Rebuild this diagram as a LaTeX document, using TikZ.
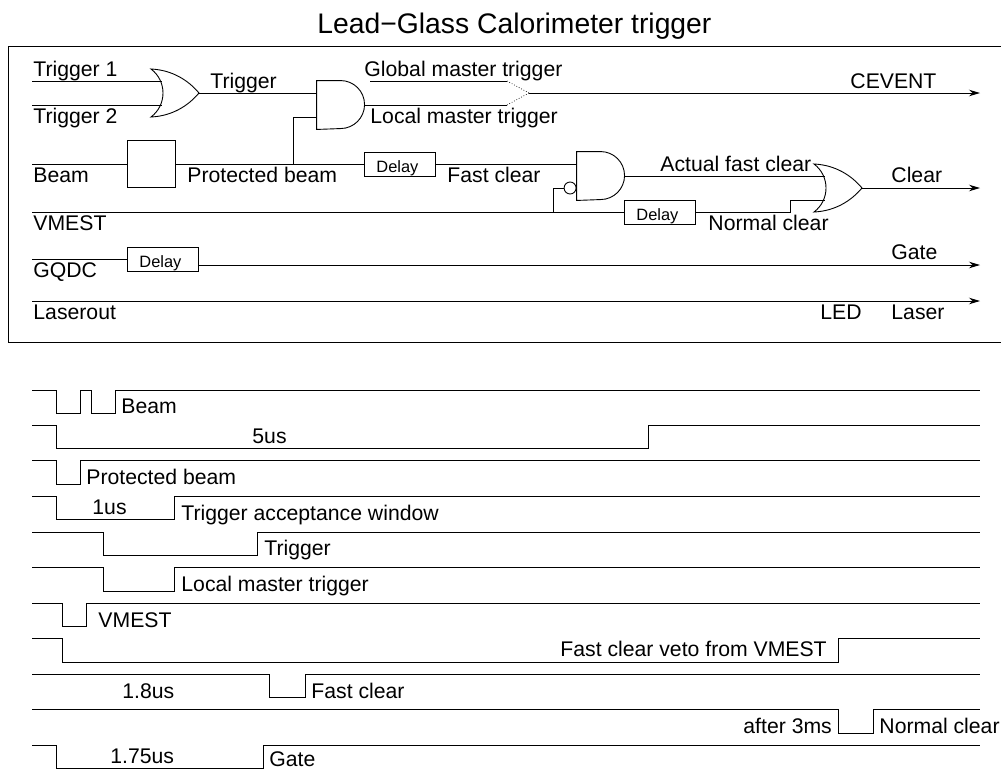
\documentclass[tikz,border=0pt]{standalone}
\usepackage{fontspec}
\setmainfont{Liberation Sans}
\usetikzlibrary{arrows.meta}
\newcommand{\andgate}[2]{\node[gatebox] (#1) at (#2) {};
\draw (#1.north west)--++(24,0) arc[start angle=90,end angle=-90,radius=24pt]--(#1.south west)--cycle;
\coordinate (#1-a) at ([yshift=12pt]#1.west);\coordinate (#1-b) at ([yshift=-12pt]#1.west);}
\newcommand{\orgate}[2]{\node[gatebox] (#1) at (#2) {};
\draw[shift={(#1.center)}] (-24,-24) .. controls (-3,-23) and (13,-13) .. (24,0) .. controls (13,13) and (-3,23) .. (-24,24) .. controls (-8,12) and (-8,-12) .. (-24,-24) -- cycle;
\coordinate (#1-a) at ([xshift=11pt,yshift=12pt]#1.west);\coordinate (#1-b) at ([xshift=11pt,yshift=-12pt]#1.west);}
\begin{document}
\begin{tikzpicture}[x=1pt,y=-1pt,>={Stealth[length=11pt,width=6.5pt]},line width=.9pt,
lab/.style={anchor=base west,inner sep=0pt,font=\fontsize{21.2}{24}\selectfont},
delaybox/.style={draw,anchor=west,minimum height=24pt,text width=47pt,align=left,inner xsep=12pt,inner ysep=0pt,text height=16pt,text depth=0pt,font=\fontsize{16.4}{18}\selectfont},
gatebox/.style={minimum size=48pt,inner sep=0pt}]
\useasboundingbox (0,0) rectangle (1001,769);
\node[lab,font=\fontsize{28.3}{32}\selectfont] (title) at (317,33) {Lead−Glass Calorimeter trigger};
\draw[line width=.8pt] (1001,46.5)--(8.5,46.5)--(8.5,342)--(1001,342);
% gates and boxes
\orgate{orA}{175,93}
\andgate{andA}{341,105}
\andgate{andB}{601,176}
\orgate{orB}{838,188}
\node[draw,circle,minimum size=12pt,inner sep=0pt,anchor=east] (notB) at (andB-b) {};
\node[draw,minimum width=48pt,minimum height=47pt] (protect) at (151,164) {};
\node[delaybox] (delayBeam) at (364,164) {Delay};
\node[delaybox] (delayClear) at (624,212) {Delay};
\node[delaybox] (delayGate) at (127,259) {Delay};
% free ends
\coordinate (trigA) at (32,81);
\coordinate (trigB) at (32,105);
\coordinate (beam) at (32,164);
\coordinate (vmest) at (32,212);
\coordinate (gqdc) at (32,259);
\coordinate (laserout) at (32,301);
\coordinate (globalIn) at (370,81);
\coordinate (globalEnd) at (507,81);
\coordinate (localEnd) at (507,105);
\coordinate (merge) at (529,93);
\coordinate (cevent) at (980,93);
\coordinate (clear) at (980,188);
\coordinate (gateOut) at (980,265);
\coordinate (laser) at (980,301);
\coordinate (tapBeam) at (293,164);
\coordinate (tapVmest) at (553,212);
\coordinate (stepClear) at (790,212);
% wires
\draw (trigA)--(orA-a);\draw (trigB)--(orA-b);
\draw (orA.east)--(andA-a);
\draw (beam)--(protect);\draw (protect)--(delayBeam);
\draw (tapBeam)|-(andA-b);
\draw (andA.east)--(localEnd);\draw (globalIn)--(globalEnd);
\draw[dotted,line width=.7pt] (globalEnd)--(merge);\draw[dotted,line width=.7pt] (localEnd)--(merge);
\draw[->] (merge)--(cevent);
\draw (delayBeam)--(andB-a);
\draw (vmest)--(delayClear);
\draw (tapVmest)|-(notB);
\draw (andB.east)--(orB-a);
\draw (delayClear)--(stepClear)|-(orB-b);
\draw[->] (orB.east)--(clear);
\draw (gqdc)--(delayGate);
\draw[->] ([yshift=-6pt]delayGate.east)--(gateOut);
\draw[->] (laserout)--(laser);
% labels
\node[lab] (lTrigA) at (33,76) {Trigger 1};
\node[lab] (lTrigB) at (33,123) {Trigger 2};
\node[lab] (lTrig) at (210,88) {Trigger};
\node[lab] (lGlobal) at (364,76) {Global master trigger};
\node[lab] (lLocal) at (370,123) {Local master trigger};
\node[lab] (lCevent) at (850,88) {CEVENT};
\node[lab] (lBeam) at (33,182) {Beam};
\node[lab] (lProt) at (187,182) {Protected beam};
\node[lab] (lFast) at (447,182) {Fast clear};
\node[lab] (lActual) at (660,171) {Actual fast clear};
\node[lab] (lClear) at (891,182) {Clear};
\node[lab] (lVmest) at (33,230) {VMEST};
\node[lab] (lNormal) at (708,230) {Normal clear};
\node[lab] (lGqdc) at (33,277) {GQDC};
\node[lab] (lGate) at (891,259) {Gate};
\node[lab] (lLaserout) at (33,319) {Laserout};
\node[lab] (lLed) at (820,319) {LED};
\node[lab] (lLaser) at (891,319) {Laser};
% timing rows
\draw (32,390)-|(56.5,413.5)-|(80,390)-|(91,413.5)-|(115,390)--(980,390);
\foreach \ytop/\xfall/\xrise in {425/56.5/648,460.5/56.5/80,496/56.5/174,532/103/257,567.5/103/174,603/62/86,638.5/62/838,674/269/305,709.5/838/873,745/56/263}
  \draw (32,\ytop)-|(\xfall,\ytop+23.5)-|(\xrise,\ytop)--(980,\ytop);
\node[lab] (tBeam) at (121,413) {Beam};
\node[lab] (t5us) at (252,443) {5us};
\node[lab] (tProt) at (86,484) {Protected beam};
\node[lab] (t1us) at (92,514) {1us};
\node[lab] (tWin) at (181,520) {Trigger acceptance window};
\node[lab] (tTrig) at (264,555) {Trigger};
\node[lab] (tLocal) at (181,591) {Local master trigger};
\node[lab] (tVmest) at (98,627) {VMEST};
\node[lab] (tVeto) at (560,656) {Fast clear veto from VMEST};
\node[lab] (t18us) at (122,698) {1.8us};
\node[lab] (tFast) at (311,698) {Fast clear};
\node[lab] (t3ms) at (743,733) {after 3ms};
\node[lab] (tNormal) at (879,733) {Normal clear};
\node[lab] (t175us) at (110,763) {1.75us};
\node[lab] (tGate) at (269,766) {Gate};
\end{tikzpicture}
\end{document}
